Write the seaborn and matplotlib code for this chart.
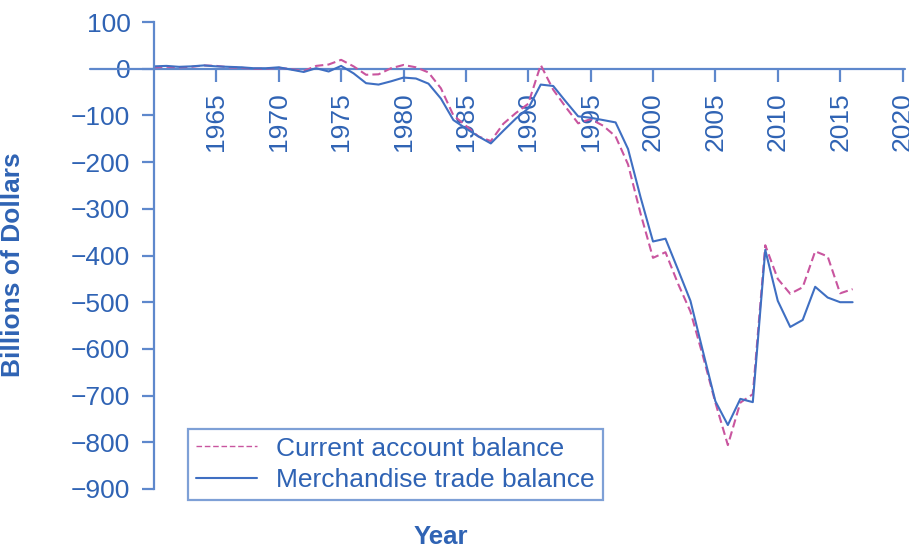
import matplotlib
matplotlib.use("Agg")
import matplotlib.pyplot as plt
import seaborn as sns
import pandas as pd

years = list(range(1960, 2017))
current_account = [
    3, 4, 3, 4, 7, 6, 3, 2, 0, 0,            # 1960-1969
    2, -1, -5, 6, 9, 19, 5, -13, -12, 1,     # 1970-1979
    8, 3, -8, -42, -100, -122, -145, -155, -118, -95,  # 1980-1989
    -75, 8, -45, -82, -117, -108, -122, -145, -205, -310,  # 1990-1999
    -405, -393, -460, -520, -615, -715, -806, -715, -697, -378,  # 2000-2009
    -450, -482, -468, -391, -402, -481, -472,  # 2010-2016
]
merchandise_trade = [
    5, 6, 4, 5, 7, 5, 4, 3, 1, 1,            # 1960-1969
    3, -2, -7, 1, -6, 6, -10, -31, -34, -27,  # 1970-1979
    -19, -21, -32, -64, -110, -128, -145, -160, -133, -107,  # 1980-1989
    -85, -34, -37, -70, -102, -105, -110, -115, -172, -275,  # 1990-1999
    -370, -364, -430, -497, -605, -712, -763, -707, -714, -388,  # 2000-2009
    -497, -553, -538, -467, -490, -500, -500,  # 2010-2016
]
xticks = [1965, 1970, 1975, 1980, 1985, 1990, 1995, 2000, 2005, 2010, 2015, 2020]
yticks = [100, 0, -100, -200, -300, -400, -500, -600, -700, -800, -900]

df = pd.DataFrame({"Year": years, "Current account balance": current_account,
                   "Merchandise trade balance": merchandise_trade})

sns.set_style("white")
plt.rcParams["font.family"] = ["Liberation Sans", "DejaVu Sans"]

BLUE = "#3f6fc2"
PINK = "#c9559f"
TEXT = "#2f63b4"
SPINE = "#5e88cc"

fig = plt.figure(figsize=(9.09, 5.51), dpi=100)
ax = fig.add_axes([154/909, 1-489/551, (905-154)/909, (489-22)/551])

sns.lineplot(data=df, x="Year", y="Current account balance", ax=ax, color=PINK,
             lw=1.5, label="Current account balance")
ax.lines[-1].set_linestyle((0, (4, 2)))
sns.lineplot(data=df, x="Year", y="Merchandise trade balance", ax=ax, color=BLUE,
             lw=1.5, label="Merchandise trade balance")

ax.set_xlim(1960, 2020.2)
ax.set_ylim(-900, 100)
ax.set_xticks(xticks)
ax.set_yticks(yticks)
ax.set_yticklabels([str(v).replace("-", "\u2212") for v in yticks])
ax.set_xticklabels([str(v) for v in xticks])

for s in ["top", "right"]:
    ax.spines[s].set_visible(False)
ax.spines["left"].set_color(SPINE)
ax.spines["left"].set_linewidth(1.6)
ax.spines["bottom"].set_position(("data", 0))
ax.spines["bottom"].set_visible(False)
ax.axhline(0, xmin=(90-154)/751, xmax=1, color=SPINE, lw=1.6, clip_on=False, zorder=1)

ax.tick_params(axis="y", direction="out", length=9, width=1.6, color=SPINE,
               labelcolor=TEXT, labelsize=19, pad=8, left=True)
ax.tick_params(axis="x", direction="out", length=9, width=1.6, color=SPINE,
               labelcolor=TEXT, labelsize=19, pad=8, bottom=True, labelrotation=90)

ax.set_xlabel("")
ax.set_ylabel("Billions of Dollars", fontsize=19, fontweight="bold", color=TEXT)
ax.yaxis.set_label_coords((25-154)/751, (489-265)/467)
fig.text(441/909, 1-537/551, "Year", fontsize=18.5, fontweight="bold", color=TEXT,
         ha="center", va="center")

if ax.get_legend():
    ax.get_legend().remove()
handles, labels = ax.get_legend_handles_labels()
leg = fig.legend(handles, labels, loc="lower left",
                 bbox_to_anchor=(188/909, 1-500/551), bbox_transform=fig.transFigure,
                 borderaxespad=0, fontsize=19, frameon=True, fancybox=False,
                 handlelength=2.3, handletextpad=0.75, labelspacing=0.28,
                 borderpad=0.3, labelcolor=TEXT)
leg.get_frame().set_edgecolor(SPINE)
leg.get_frame().set_linewidth(1.6)
leg.legend_handles[0].set_linewidth(1.0)

fig.savefig("out.png", dpi=100)
